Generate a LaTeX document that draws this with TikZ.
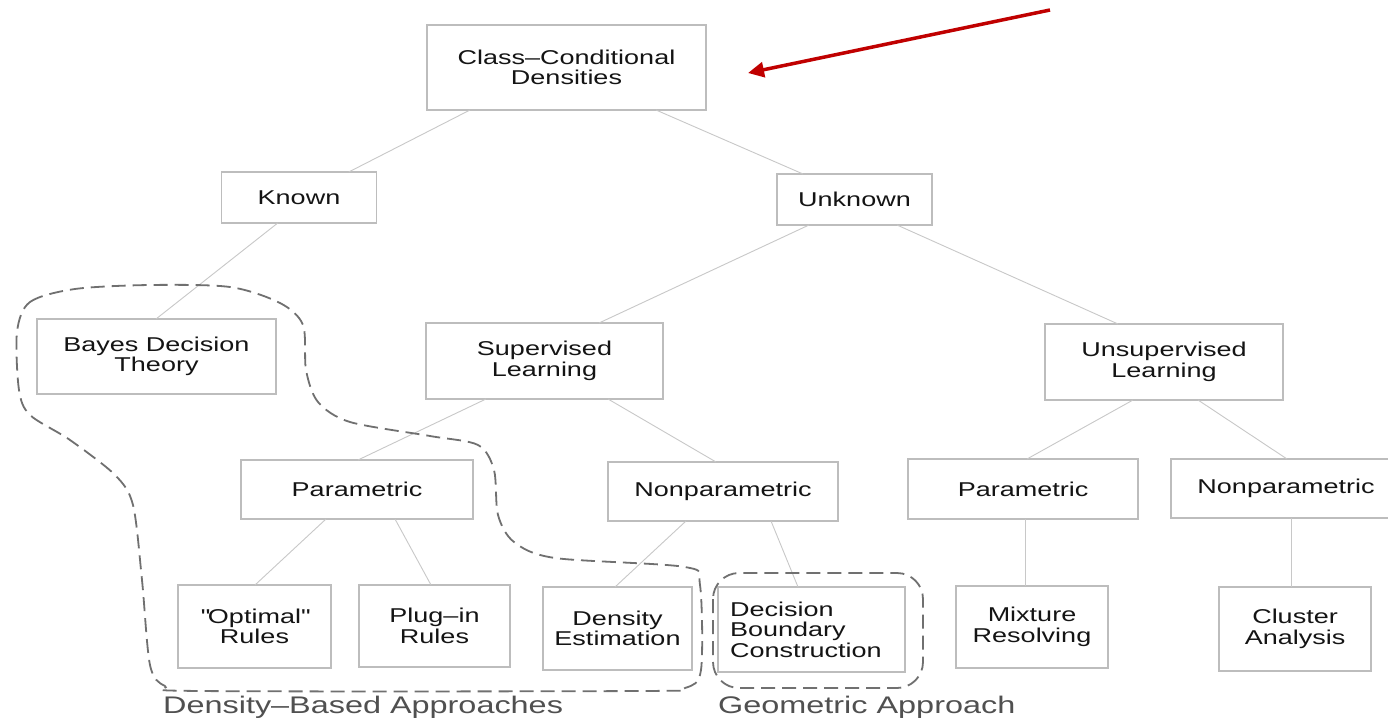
\documentclass[tikz,border=0pt]{standalone}
\usepackage{fontspec}
\setmainfont{Liberation Sans}[FakeStretch=1.35]
\usetikzlibrary{arrows.meta}
\definecolor{boxline}{HTML}{BDBDBD}
\definecolor{linkgray}{HTML}{C8C8C8}
\definecolor{dashgray}{HTML}{707070}
\definecolor{txt}{HTML}{141414}
\definecolor{lbl}{HTML}{505050}
\definecolor{arrowred}{HTML}{C00000}
\begin{document}
\begin{tikzpicture}[x=1pt,y=-1pt,
  box/.style={draw=boxline, line width=1.1pt, inner sep=0pt, outer sep=0pt,
    align=center, text=txt, font=\fontsize{20}{20.5}\selectfont},
  link/.style={draw=linkgray, line width=0.9pt},
  outline/.style={draw=dashgray, line width=1.8pt, dash pattern=on 14pt off 7pt},
  grouplabel/.style={anchor=west, inner sep=0pt, text=lbl, font=\fontsize{24}{24}\selectfont},
  redarrow/.style={draw=arrowred, line width=3.5pt, -{Triangle[length=16pt,width=15pt]}}]
\fill[white] (0,0) rectangle (1388,722);
\useasboundingbox (0,0) rectangle (1388,722);

% boxes
\node[box, minimum width=279pt, minimum height=85pt] (cls) at (566.5,67.5) {Class–Conditional\\Densities};
\node[box, minimum width=154.5pt, minimum height=51pt] (known) at (299,197.5) {Known};
\node[box, minimum width=155pt, minimum height=51pt] (unknown) at (854.5,199.5) {Unknown};
\node[box, minimum width=239pt, minimum height=75pt] (bayes) at (156.5,356.5) {Bayes Decision\\Theory};
\node[box, minimum width=237pt, minimum height=76pt] (sup) at (544.5,361) {Supervised\\Learning};
\node[box, minimum width=238pt, minimum height=76pt] (unsup) at (1164,362) {Unsupervised\\Learning};
\node[box, minimum width=232pt, minimum height=59pt] (parA) at (357,489.5) {Parametric};
\node[box, minimum width=230pt, minimum height=59pt] (nonparA) at (723,491.5) {Nonparametric};
\node[box, minimum width=230pt, minimum height=60pt] (parB) at (1023,489) {Parametric};
\node[box, minimum width=230pt, minimum height=59pt] (nonparB) at (1286,488.5) {Nonparametric};
\node[box, minimum width=153pt, minimum height=83pt] (opt) at (254.5,626.5) {\textquotedbl Optimal\textquotedbl\\Rules};
\node[box, minimum width=151pt, minimum height=82pt] (plug) at (434.5,626) {Plug–in\\Rules};
\node[box, minimum width=149pt, minimum height=83pt] (dens) at (617.5,628.5) {Density\\Estimation};
\node[box, text width=163pt, inner xsep=12pt, minimum height=85pt, align=left] (dbc) at (811.5,629.5) {Decision\\Boundary\\Construction};
\node[box, minimum width=152pt, minimum height=82pt] (mix) at (1032,627) {Mixture\\Resolving};
\node[box, minimum width=152pt, minimum height=84pt] (clu) at (1295,629) {Cluster\\Analysis};

% connectors
\draw[link] ([xshift=43pt]cls.south west) -- ([xshift=127pt]known.north west);
\draw[link] ([xshift=229pt]cls.south west) -- ([xshift=26pt]unknown.north west);
\draw[link] ([xshift=56pt]known.south west) -- ([xshift=119pt]bayes.north west);
\draw[link] ([xshift=32pt]unknown.south west) -- ([xshift=173pt]sup.north west);
\draw[link] ([xshift=120pt]unknown.south west) -- ([xshift=73pt]unsup.north west);
\draw[link] ([xshift=60pt]sup.south west) -- ([xshift=117pt]parA.north west);
\draw[link] ([xshift=182pt]sup.south west) -- ([xshift=108pt]nonparA.north west);
\draw[link] ([xshift=88pt]unsup.south west) -- ([xshift=119pt]parB.north west);
\draw[link] ([xshift=153pt]unsup.south west) -- ([xshift=116pt]nonparB.north west);
\draw[link] ([xshift=85pt]parA.south west) -- ([xshift=77pt]opt.north west);
\draw[link] ([xshift=154pt]parA.south west) -- ([xshift=72pt]plug.north west);
\draw[link] ([xshift=78pt]nonparA.south west) -- ([xshift=72pt]dens.north west);
\draw[link] ([xshift=163pt]nonparA.south west) -- ([xshift=80pt]dbc.north west);
\draw[link] ([xshift=117pt]parB.south west) -- ([xshift=69pt]mix.north west);
\draw[link] ([xshift=120pt]nonparB.south west) -- ([xshift=72pt]clu.north west);

% dashed group outlines
\draw[outline] plot[smooth cycle, tension=0.5] coordinates {
  (17,332) (30,302) (75,289) (150,285) (230,287) (280,303) (303,325)
  (306,370) (318,402) (350,422) (430,436) (478,445) (494,470) (498,515)
  (514,542) (555,558) (685,567) (700,585) (701,670) (685,688) (640,691)
  (200,691) (165,686) (150,665) (142,580) (133,505) (115,475) (70,440)
  (30,415) (19,390)};
\draw[outline, rounded corners=26pt] (713,573) rectangle (923,688);

% group labels
\node[grouplabel] (densLbl) at (163,707) {Density–Based Approaches};
\node[grouplabel] (geoLbl) at (718,707) {Geometric Approach};

% red arrow
\coordinate (arrS) at (1050,10);
\coordinate (arrE) at (748,73);
\draw[redarrow] (arrS) -- (arrE);
\end{tikzpicture}
\end{document}
